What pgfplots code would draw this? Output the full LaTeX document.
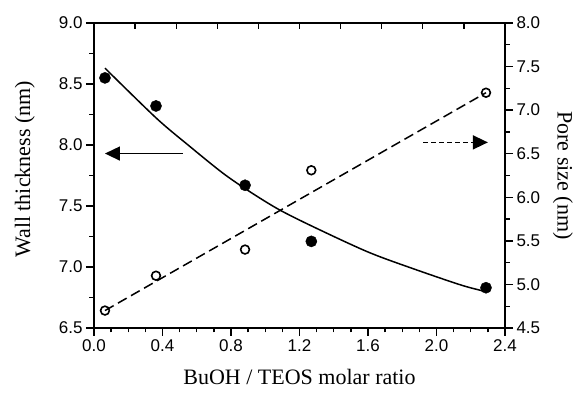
\documentclass[border=0pt]{standalone}
\usepackage{fontspec}
\setmainfont{Liberation Serif}
\newfontfamily\arial{Liberation Sans}
\usepackage{pgfplots}
\pgfplotsset{compat=1.18}
\usetikzlibrary{arrows.meta}

\pgfplotstableread{
x y
0.064 8.55
0.362 8.32
0.882 7.67
1.269 7.21
2.289 6.83
}\wall

\pgfplotstableread{
x y
0.064 4.70
0.362 5.10
0.882 5.40
1.269 6.31
2.289 7.20
}\pore

\pgfplotstableread{
x y
0.064 8.63
0.364 8.22
0.558 7.99
0.752 7.77
0.907 7.62
1.081 7.47
1.295 7.32
1.605 7.12
1.876 6.98
2.148 6.85
2.284 6.80
}\fit

\pgfplotsset{
  common/.style={
    scale only axis, width=411pt, height=305pt,
    xmin=0, xmax=2.4,
    /pgf/number format/assume math mode=true,
    ticklabel style={font=\arial\fontsize{17}{17}\selectfont},
    label style={font=\fontsize{22}{22}\selectfont},
    axis line style={line width=1.6pt},
    every tick/.style={line width=1.3pt, black},
    major tick length=8pt, minor tick length=4.5pt,
    /pgf/number format/.cd, fixed, fixed zerofill, precision=1,
  },
}

\begin{document}
\begin{tikzpicture}
\begin{axis}[common, name=main,
  ymin=6.5, ymax=9.0,
  axis x line*=bottom, axis y line*=left,
  tick align=outside,
  xtick={0,0.4,0.8,1.2,1.6,2.0,2.4}, minor x tick num=3,
  ytick={6.5,7.0,7.5,8.0,8.5,9.0}, minor y tick num=1,
  xlabel={BuOH / TEOS molar ratio},
  ylabel={Wall thickness (nm)},
  xlabel style={at={(axis description cs:0.5,-0.16)}, anchor=center},
  ylabel style={at={(axis description cs:-0.168,0.52)}, anchor=center},
]
\addplot[black, line width=1.5pt, smooth] table {\fit};
\addplot[only marks, mark=*, mark size=5.6pt, mark options={fill=black, draw=black}] table {\wall};
\addplot[black, line width=1.5pt, -{Triangle[length=15pt,width=14pt]}] coordinates {(0.517,7.93) (0.064,7.93)};
\end{axis}
\begin{axis}[common,
  ymin=4.5, ymax=8.0,
  axis x line=none, axis y line*=right,
  tick align=outside,
  ytick={4.5,5.0,5.5,6.0,6.5,7.0,7.5,8.0}, minor y tick num=1,
  ylabel={Pore size (nm)},
  ylabel style={at={(axis description cs:1.141,0.5)}, anchor=center, rotate=180},
]
\addplot[black, line width=1.5pt, dash pattern=on 10pt off 5pt] coordinates {(0.064,4.70) (2.289,7.20)};
\addplot[only marks, mark=o, mark size=4.4pt, mark options={draw=black, line width=1.6pt, solid}] table {\pore};
\addplot[black, line width=1.5pt, dash pattern=on 5pt off 3pt, -{Triangle[length=15pt,width=14pt]}] coordinates {(1.924,6.63) (2.30,6.63)};
\end{axis}
\begin{axis}[common,
  ymin=0, ymax=1,
  axis y line=none, axis x line*=top,
  tick align=inside,
  xtick={0,0.24,0.48,0.72,0.96,1.2,1.44,1.68,1.92,2.16,2.4},
  xticklabels={}, major tick length=6pt,
]
\end{axis}
\pgfresetboundingbox
\path[use as bounding box] ([xshift=-94pt,yshift=-67pt]main.south west) rectangle ([xshift=75pt,yshift=23pt]main.north east);
\end{tikzpicture}
\end{document}
